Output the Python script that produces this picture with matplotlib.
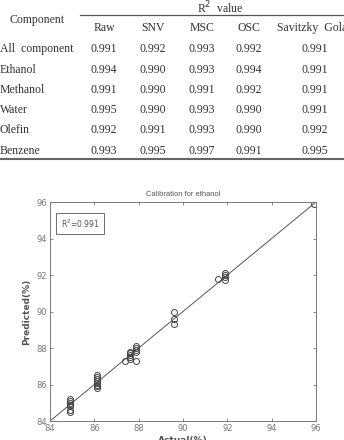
import matplotlib
matplotlib.use('Agg')
import matplotlib.pyplot as plt
from matplotlib.lines import Line2D

# table data
methods = ['Raw', 'SNV', 'MSC', 'OSC', 'Savitzky  Golay']
components = ['All  component', 'Ethanol', 'Methanol', 'Water', 'Olefin', 'Benzene']
r2_raw = [0.991, 0.994, 0.991, 0.995, 0.992, 0.993]
r2_snv = [0.992, 0.990, 0.990, 0.990, 0.991, 0.995]
r2_msc = [0.993, 0.993, 0.991, 0.993, 0.993, 0.997]
r2_osc = [0.992, 0.994, 0.992, 0.990, 0.990, 0.991]
r2_sg = [0.991, 0.991, 0.991, 0.991, 0.992, 0.995]

# calibration data for ethanol
actual = [84.9, 84.9, 84.9, 84.9, 84.9, 84.9, 84.9,
          86.1, 86.1, 86.1, 86.1, 86.1, 86.1, 86.1, 86.1,
          87.4, 87.6, 87.6, 87.6, 87.6, 87.6,
          87.9, 87.9, 87.9, 87.9, 87.9,
          89.6, 89.6, 89.6,
          91.6, 91.9, 91.9, 91.9, 91.9,
          95.9]
predicted = [85.2, 85.1, 85.0, 84.9, 84.8, 84.6, 84.5,
             86.5, 86.4, 86.3, 86.2, 86.1, 86.0, 85.9, 85.8,
             87.3, 87.8, 87.7, 87.6, 87.5, 87.4,
             88.1, 88.0, 87.9, 87.8, 87.3,
             90.0, 89.6, 89.3,
             91.8, 92.1, 92.0, 91.9, 91.7,
             95.9]
ticks = [84, 86, 88, 90, 92, 94, 96]

W, H = 344, 440
fig = plt.figure(figsize=(W / 100, H / 100), dpi=100)


def fx(x):
    return x / W


def fy(y):
    return 1 - y / H


serif = 'Liberation Serif'
tcol = '#333333'
tsize = 8.5

# table header
fig.text(fx(37), fy(20), 'Component', family=serif, size=tsize, color=tcol,
         ha='center', va='center')
fig.text(fx(220), fy(8), r'R$^2$  value', family=serif, size=tsize,
         color=tcol, ha='center', va='center')
fig.add_artist(Line2D([fx(80), fx(344)], [fy(15), fy(15)], color='#555555',
                      lw=0.9))
col_x = [104, 153, 202, 249, 315]
for x, m in zip(col_x, methods):
    fig.text(fx(x), fy(28), m, family=serif, size=tsize, color=tcol,
             ha='center', va='center')

row_y = [49, 70, 90, 110, 130, 151]
cols = [r2_raw, r2_snv, r2_msc, r2_osc, r2_sg]
for i, (y, c) in enumerate(zip(row_y, components)):
    fig.text(fx(0), fy(y), c, family=serif, size=tsize, color=tcol,
             ha='left', va='center')
    for x, vals in zip(col_x, cols):
        fig.text(fx(x), fy(y), '%.3f' % vals[i], family=serif, size=tsize,
                 color=tcol, ha='center', va='center')
fig.add_artist(Line2D([0, 1], [fy(159), fy(159)], color='#666666', lw=1.5))

# calibration plot
ax = fig.add_axes([fx(50), fy(421), (316 - 50) / W, (421 - 202) / H])
gray = '#777777'
ax.plot([84, 96], [84, 96], color='#555555', lw=0.7)
ax.plot(actual, predicted, 'o', mfc='none', mec='#444444', ms=4.3, mew=0.7)
ax.set_xlim(84, 96)
ax.set_ylim(84, 96)
ax.set_xticks(ticks)
ax.set_yticks(ticks)
ax.tick_params(direction='in', top=True, right=True, length=2.5,
               width=0.6, color=gray, labelsize=6, labelcolor=gray, pad=2)
for s in ax.spines.values():
    s.set_color(gray)
    s.set_linewidth(0.7)
ax.set_title('Calibration for ethanol', fontsize=5.4, color='#555555',
             family='Liberation Sans', pad=4)
ax.set_xlabel('Actual(%)', fontsize=6.5, color='#555555', weight='bold',
              labelpad=2)
ax.set_ylabel('Predicted(%)', fontsize=6.5, color='#555555', weight='bold',
              labelpad=4)
ax.text(0.04, 0.93, r'R$^2$=0.991', transform=ax.transAxes, fontsize=5.5,
        color='#555555', va='top', ha='left',
        bbox=dict(boxstyle='square,pad=0.6', fc='white', ec='#555555',
                  lw=0.6))

fig.savefig('out.png', dpi=100)
